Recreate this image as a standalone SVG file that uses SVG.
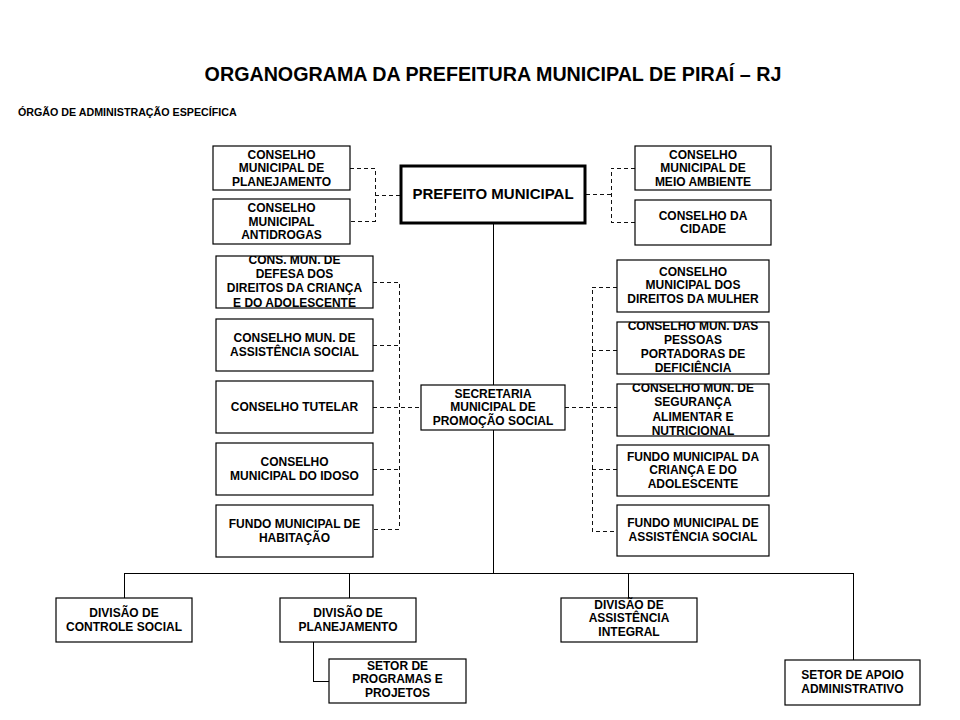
<svg xmlns="http://www.w3.org/2000/svg" width="960" height="720" viewBox="0 0 960 720">
<style>
.box{fill:#fff;stroke:#000;stroke-width:1.2}
.fillonly{fill:#fff;stroke:none}
.edge{fill:none;stroke:#000;stroke-width:1.2}
.t{font-family:"Liberation Sans",Arial,sans-serif;font-weight:bold;font-size:12px;fill:#000;text-anchor:middle}
.d{fill:none;stroke:#111;stroke-width:1;stroke-dasharray:4 3;shape-rendering:crispEdges}
.s{fill:none;stroke:#000;stroke-width:1;shape-rendering:crispEdges}
</style>
<defs>
<clipPath id="c1"><rect x="216" y="256" width="157" height="52"/></clipPath>
<clipPath id="c2"><rect x="617" y="322" width="152" height="52"/></clipPath>
<clipPath id="c3"><rect x="617" y="384" width="152" height="52"/></clipPath>
</defs>
<rect width="960" height="720" fill="#fff"/>
<text x="493" y="81" class="t" style="font-size:19.7px">ORGANOGRAMA DA PREFEITURA MUNICIPAL DE PIRAÍ – RJ</text>
<text x="18" y="116" class="t" style="font-size:10.7px;text-anchor:start">ÓRGÃO DE ADMINISTRAÇÃO ESPECÍFICA</text>

<g id="connectors">
<path class="d" d="M350,168 H375 V221 H350 M375,195 H400"/>
<path class="d" d="M586,194 H611 M635,168 H611 V222 H635"/>
<path class="d" d="M373,282 H399 V529 H373 M373,345 H399 M373,407 H421 M373,469 H399"/>
<path class="d" d="M617,287 H592 V531 H617 M617,350 H592 M565,407 H617 M617,469 H592"/>
<path class="s" d="M493,224 V385 M493,430 V573 M124,573 H853 M124,573 V598 M349,573 V598 M628,573 V598 M853,573 V660 M313,642 V681 H329"/>
</g>

<g id="cons-planejamento"><rect class="box" x="213" y="146" width="137" height="44"/>
<text class="t" x="281.5" y="158.5">CONSELHO</text><text class="t" x="281.5" y="172">MUNICIPAL DE</text><text class="t" x="281.5" y="185.5">PLANEJAMENTO</text></g>
<g id="cons-antidrogas"><rect class="box" x="213" y="199" width="137" height="45"/>
<text class="t" x="281.5" y="212">CONSELHO</text><text class="t" x="281.5" y="225.5">MUNICIPAL</text><text class="t" x="281.5" y="239">ANTIDROGAS</text></g>
<g id="prefeito"><rect x="401" y="166" width="184" height="57" fill="#fff" stroke="#000" stroke-width="3"/>
<text class="t" x="493" y="199" style="font-size:15px">PREFEITO MUNICIPAL</text></g>
<g id="cons-meio-ambiente"><rect class="box" x="635" y="146" width="136" height="44"/>
<text class="t" x="703" y="158.5">CONSELHO</text><text class="t" x="703" y="172">MUNICIPAL DE</text><text class="t" x="703" y="185.5">MEIO AMBIENTE</text></g>
<g id="cons-cidade"><rect class="box" x="635" y="200" width="136" height="45"/>
<text class="t" x="703" y="219.5">CONSELHO DA</text><text class="t" x="703" y="233">CIDADE</text></g>

<g id="secretaria"><rect class="box" x="421" y="385" width="144" height="45"/>
<text class="t" x="493" y="397.5">SECRETARIA</text><text class="t" x="493" y="411">MUNICIPAL DE</text><text class="t" x="493" y="424.5">PROMOÇÃO SOCIAL</text></g>

<g id="cons-crianca"><rect class="fillonly" x="216" y="256" width="157" height="52"/>
<g clip-path="url(#c1)"><text class="t" x="294.5" y="264">CONS. MUN. DE</text><text class="t" x="294.5" y="278">DEFESA DOS</text><text class="t" x="294.5" y="292">DIREITOS DA CRIANÇA</text><text class="t" x="294.5" y="306.5">E DO ADOLESCENTE</text></g>
<rect class="edge" x="216" y="256" width="157" height="52"/></g>
<g id="cons-assistencia"><rect class="box" x="216" y="319" width="157" height="52"/>
<text class="t" x="294.5" y="342">CONSELHO MUN. DE</text><text class="t" x="294.5" y="355.5">ASSISTÊNCIA SOCIAL</text></g>
<g id="cons-tutelar"><rect class="box" x="216" y="381" width="157" height="52"/>
<text class="t" x="294.5" y="411">CONSELHO TUTELAR</text></g>
<g id="cons-idoso"><rect class="box" x="216" y="443" width="157" height="52"/>
<text class="t" x="294.5" y="466">CONSELHO</text><text class="t" x="294.5" y="479.5">MUNICIPAL DO IDOSO</text></g>
<g id="fundo-habitacao"><rect class="box" x="216" y="505" width="157" height="52"/>
<text class="t" x="294.5" y="528">FUNDO MUNICIPAL DE</text><text class="t" x="294.5" y="541.5">HABITAÇÃO</text></g>

<g id="cons-mulher"><rect class="box" x="617" y="260" width="152" height="52"/>
<text class="t" x="693" y="275.5">CONSELHO</text><text class="t" x="693" y="289">MUNICIPAL DOS</text><text class="t" x="693" y="302.5">DIREITOS DA MULHER</text></g>
<g id="cons-deficiencia"><rect class="fillonly" x="617" y="322" width="152" height="52"/>
<g clip-path="url(#c2)"><text class="t" x="693" y="330">CONSELHO MUN. DAS</text><text class="t" x="693" y="344">PESSOAS</text><text class="t" x="693" y="358">PORTADORAS DE</text><text class="t" x="693" y="372">DEFICIÊNCIA</text></g>
<rect class="edge" x="617" y="322" width="152" height="52"/></g>
<g id="cons-seguranca"><rect class="fillonly" x="617" y="384" width="152" height="52"/>
<g clip-path="url(#c3)"><text class="t" x="693" y="392">CONSELHO MUN. DE</text><text class="t" x="693" y="406">SEGURANÇA</text><text class="t" x="693" y="420.5">ALIMENTAR E</text><text class="t" x="693" y="435">NUTRICIONAL</text></g>
<rect class="edge" x="617" y="384" width="152" height="52"/></g>
<g id="fundo-crianca"><rect class="box" x="617" y="445" width="152" height="51"/>
<text class="t" x="693" y="460.5">FUNDO MUNICIPAL DA</text><text class="t" x="693" y="474">CRIANÇA E DO</text><text class="t" x="693" y="487.5">ADOLESCENTE</text></g>
<g id="fundo-assistencia"><rect class="box" x="617" y="505" width="152" height="51"/>
<text class="t" x="693" y="526.5">FUNDO MUNICIPAL DE</text><text class="t" x="693" y="540.5">ASSISTÊNCIA SOCIAL</text></g>

<g id="div-controle"><rect class="box" x="56" y="598" width="136" height="44"/>
<text class="t" x="124" y="616.5">DIVISÃO DE</text><text class="t" x="124" y="630.5">CONTROLE SOCIAL</text></g>
<g id="div-planejamento"><rect class="box" x="280" y="598" width="136" height="44"/>
<text class="t" x="348" y="616.5">DIVISÃO DE</text><text class="t" x="348" y="630.5">PLANEJAMENTO</text></g>
<g id="div-assistencia"><rect class="box" x="561" y="598" width="136" height="44"/>
<text class="t" x="629" y="608.5">DIVISÃO DE</text><text class="t" x="629" y="622">ASSISTÊNCIA</text><text class="t" x="629" y="635.5">INTEGRAL</text></g>
<g id="setor-programas"><rect class="box" x="329" y="659" width="137" height="44"/>
<text class="t" x="397.5" y="669.5">SETOR DE</text><text class="t" x="397.5" y="683">PROGRAMAS E</text><text class="t" x="397.5" y="696.5">PROJETOS</text></g>
<g id="setor-apoio"><rect class="box" x="785" y="660" width="135" height="45"/>
<text class="t" x="852.5" y="679">SETOR DE APOIO</text><text class="t" x="852.5" y="693">ADMINISTRATIVO</text></g>
</svg>
